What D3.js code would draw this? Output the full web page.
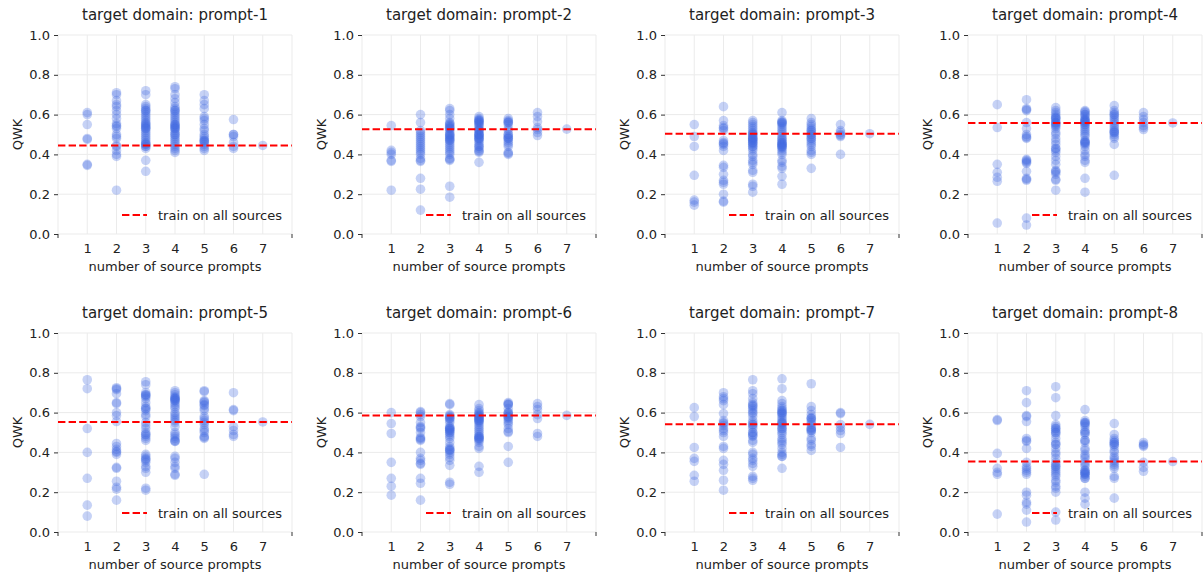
<!DOCTYPE html>
<html>
<head>
<meta charset="utf-8">
<script src="https://cdn.jsdelivr.net/npm/d3@7"></script>
<style>
  body { margin: 0; background: #fff; }
  svg text { font-family: "DejaVu Sans", sans-serif; fill: #222; }
</style>
</head>
<body>
<div id="chart"></div>
<script>
// QWK per number of source prompts (index 0 -> 1 source ... index 6 -> 7 sources)
const titles = ['prompt-1', 'prompt-2', 'prompt-3', 'prompt-4', 'prompt-5', 'prompt-6', 'prompt-7', 'prompt-8'];
const allSources = [0.445, 0.527, 0.504, 0.558, 0.553, 0.586, 0.541, 0.354];
const xTicks = [1, 2, 3, 4, 5, 6, 7];
const yTicks = [0, 0.2, 0.4, 0.6, 0.8, 1.0];

const prompt1 = [
  [0.61, 0.60, 0.55, 0.48, 0.475, 0.35, 0.345],
  [0.71, 0.70, 0.67, 0.65, 0.64, 0.62, 0.60, 0.58, 0.555, 0.545, 0.54, 0.53, 0.50, 0.49, 0.48, 0.445, 0.44, 0.42, 0.40, 0.39, 0.22],
  [0.72, 0.70, 0.65, 0.64, 0.63, 0.62, 0.62, 0.61, 0.60, 0.59, 0.58, 0.57, 0.56, 0.555, 0.55, 0.545, 0.54, 0.535, 0.53, 0.53, 0.52, 0.51, 0.50, 0.49, 0.48, 0.47, 0.46, 0.455, 0.45, 0.45, 0.44, 0.44, 0.43, 0.37, 0.315],
  [0.74, 0.73, 0.70, 0.68, 0.66, 0.64, 0.63, 0.62, 0.62, 0.61, 0.60, 0.59, 0.58, 0.57, 0.56, 0.55, 0.55, 0.545, 0.54, 0.535, 0.53, 0.53, 0.52, 0.51, 0.50, 0.50, 0.49, 0.48, 0.47, 0.46, 0.45, 0.44, 0.43, 0.42, 0.41],
  [0.70, 0.67, 0.65, 0.63, 0.59, 0.58, 0.57, 0.55, 0.53, 0.52, 0.50, 0.49, 0.48, 0.47, 0.47, 0.465, 0.46, 0.45, 0.44, 0.43, 0.42],
  [0.575, 0.50, 0.50, 0.49, 0.46, 0.44, 0.43],
  [0.445]
];
const prompt2 = [
  [0.545, 0.42, 0.41, 0.40, 0.37, 0.365, 0.22],
  [0.60, 0.56, 0.52, 0.51, 0.50, 0.49, 0.48, 0.47, 0.46, 0.45, 0.44, 0.43, 0.42, 0.41, 0.40, 0.38, 0.37, 0.365, 0.28, 0.225, 0.12],
  [0.63, 0.62, 0.60, 0.58, 0.56, 0.555, 0.55, 0.545, 0.54, 0.535, 0.53, 0.53, 0.52, 0.51, 0.50, 0.50, 0.495, 0.49, 0.485, 0.48, 0.475, 0.47, 0.47, 0.46, 0.45, 0.44, 0.43, 0.42, 0.41, 0.40, 0.38, 0.375, 0.37, 0.24, 0.185],
  [0.59, 0.58, 0.575, 0.57, 0.57, 0.565, 0.56, 0.56, 0.55, 0.55, 0.54, 0.53, 0.525, 0.52, 0.52, 0.51, 0.50, 0.50, 0.50, 0.495, 0.49, 0.485, 0.48, 0.48, 0.475, 0.47, 0.46, 0.45, 0.44, 0.44, 0.43, 0.42, 0.415, 0.41, 0.36],
  [0.58, 0.57, 0.565, 0.56, 0.56, 0.55, 0.53, 0.52, 0.50, 0.50, 0.49, 0.485, 0.48, 0.48, 0.47, 0.46, 0.45, 0.44, 0.41, 0.405, 0.40],
  [0.61, 0.59, 0.565, 0.535, 0.525, 0.51, 0.495],
  [0.527]
];
const prompt3 = [
  [0.55, 0.49, 0.44, 0.295, 0.17, 0.16, 0.145],
  [0.64, 0.57, 0.545, 0.535, 0.53, 0.52, 0.47, 0.46, 0.455, 0.45, 0.44, 0.42, 0.345, 0.335, 0.30, 0.27, 0.26, 0.25, 0.20, 0.165, 0.16],
  [0.57, 0.56, 0.55, 0.54, 0.53, 0.52, 0.51, 0.505, 0.50, 0.50, 0.49, 0.485, 0.48, 0.48, 0.475, 0.47, 0.47, 0.46, 0.46, 0.455, 0.45, 0.44, 0.44, 0.43, 0.42, 0.40, 0.39, 0.37, 0.36, 0.35, 0.32, 0.31, 0.25, 0.24, 0.21],
  [0.61, 0.57, 0.565, 0.56, 0.56, 0.555, 0.55, 0.54, 0.53, 0.52, 0.51, 0.50, 0.49, 0.48, 0.475, 0.47, 0.46, 0.46, 0.455, 0.45, 0.45, 0.445, 0.44, 0.44, 0.435, 0.43, 0.42, 0.41, 0.40, 0.37, 0.36, 0.34, 0.33, 0.29, 0.25],
  [0.58, 0.56, 0.55, 0.54, 0.53, 0.52, 0.52, 0.51, 0.50, 0.50, 0.49, 0.48, 0.48, 0.47, 0.46, 0.45, 0.44, 0.42, 0.41, 0.40, 0.33],
  [0.55, 0.52, 0.51, 0.50, 0.495, 0.49, 0.40],
  [0.504]
];
const prompt4 = [
  [0.65, 0.535, 0.35, 0.31, 0.285, 0.265, 0.055],
  [0.675, 0.63, 0.625, 0.62, 0.56, 0.53, 0.50, 0.49, 0.485, 0.48, 0.375, 0.37, 0.365, 0.36, 0.355, 0.315, 0.28, 0.275, 0.27, 0.08, 0.045],
  [0.635, 0.62, 0.61, 0.60, 0.59, 0.585, 0.58, 0.58, 0.57, 0.56, 0.56, 0.555, 0.55, 0.545, 0.54, 0.53, 0.51, 0.50, 0.48, 0.465, 0.45, 0.43, 0.43, 0.42, 0.41, 0.39, 0.37, 0.35, 0.32, 0.315, 0.31, 0.30, 0.275, 0.27, 0.22],
  [0.62, 0.615, 0.61, 0.60, 0.60, 0.59, 0.58, 0.575, 0.57, 0.57, 0.565, 0.56, 0.56, 0.55, 0.55, 0.54, 0.53, 0.52, 0.51, 0.50, 0.49, 0.47, 0.465, 0.46, 0.46, 0.455, 0.45, 0.44, 0.42, 0.40, 0.39, 0.37, 0.36, 0.28, 0.21],
  [0.645, 0.62, 0.61, 0.60, 0.60, 0.59, 0.58, 0.57, 0.56, 0.55, 0.54, 0.53, 0.52, 0.515, 0.51, 0.51, 0.50, 0.49, 0.48, 0.45, 0.295],
  [0.61, 0.59, 0.575, 0.56, 0.545, 0.535, 0.525],
  [0.558]
];
const prompt5 = [
  [0.765, 0.72, 0.52, 0.40, 0.27, 0.135, 0.08],
  [0.725, 0.72, 0.715, 0.695, 0.65, 0.645, 0.60, 0.585, 0.555, 0.445, 0.43, 0.415, 0.405, 0.40, 0.39, 0.325, 0.32, 0.255, 0.225, 0.215, 0.16],
  [0.755, 0.74, 0.70, 0.69, 0.69, 0.685, 0.68, 0.67, 0.65, 0.63, 0.62, 0.62, 0.61, 0.59, 0.58, 0.55, 0.535, 0.52, 0.50, 0.49, 0.49, 0.48, 0.47, 0.46, 0.39, 0.38, 0.37, 0.365, 0.36, 0.35, 0.33, 0.32, 0.30, 0.22, 0.21],
  [0.71, 0.70, 0.69, 0.68, 0.675, 0.67, 0.67, 0.665, 0.66, 0.66, 0.65, 0.64, 0.63, 0.62, 0.60, 0.59, 0.58, 0.57, 0.56, 0.55, 0.53, 0.50, 0.49, 0.48, 0.47, 0.46, 0.455, 0.455, 0.38, 0.37, 0.35, 0.33, 0.32, 0.29, 0.285],
  [0.71, 0.705, 0.66, 0.655, 0.65, 0.64, 0.635, 0.62, 0.61, 0.58, 0.57, 0.56, 0.55, 0.54, 0.52, 0.51, 0.50, 0.48, 0.475, 0.47, 0.29],
  [0.70, 0.615, 0.61, 0.53, 0.51, 0.49, 0.48],
  [0.553]
];
const prompt6 = [
  [0.60, 0.545, 0.495, 0.35, 0.27, 0.23, 0.185],
  [0.605, 0.60, 0.59, 0.58, 0.55, 0.53, 0.525, 0.52, 0.50, 0.475, 0.47, 0.465, 0.46, 0.40, 0.37, 0.36, 0.345, 0.34, 0.27, 0.245, 0.16],
  [0.645, 0.64, 0.59, 0.585, 0.58, 0.575, 0.57, 0.57, 0.56, 0.55, 0.53, 0.525, 0.52, 0.52, 0.515, 0.51, 0.51, 0.50, 0.50, 0.49, 0.48, 0.47, 0.45, 0.43, 0.42, 0.415, 0.41, 0.41, 0.40, 0.39, 0.375, 0.36, 0.335, 0.25, 0.24],
  [0.64, 0.62, 0.61, 0.60, 0.595, 0.59, 0.585, 0.58, 0.58, 0.575, 0.57, 0.57, 0.565, 0.56, 0.56, 0.555, 0.55, 0.54, 0.53, 0.52, 0.51, 0.50, 0.49, 0.48, 0.48, 0.475, 0.47, 0.47, 0.465, 0.46, 0.45, 0.43, 0.42, 0.33, 0.30],
  [0.65, 0.645, 0.64, 0.64, 0.62, 0.60, 0.60, 0.595, 0.59, 0.58, 0.58, 0.575, 0.57, 0.56, 0.55, 0.54, 0.52, 0.505, 0.50, 0.43, 0.35],
  [0.645, 0.63, 0.615, 0.59, 0.57, 0.495, 0.48],
  [0.586]
];
const prompt7 = [
  [0.625, 0.58, 0.425, 0.37, 0.355, 0.285, 0.255],
  [0.70, 0.68, 0.67, 0.66, 0.64, 0.595, 0.56, 0.55, 0.545, 0.535, 0.52, 0.51, 0.50, 0.48, 0.43, 0.42, 0.36, 0.34, 0.31, 0.26, 0.21],
  [0.765, 0.71, 0.695, 0.67, 0.65, 0.64, 0.635, 0.63, 0.62, 0.61, 0.60, 0.595, 0.58, 0.56, 0.55, 0.54, 0.54, 0.53, 0.52, 0.50, 0.50, 0.49, 0.485, 0.48, 0.46, 0.45, 0.40, 0.39, 0.37, 0.36, 0.345, 0.33, 0.28, 0.27, 0.26],
  [0.77, 0.72, 0.66, 0.645, 0.63, 0.62, 0.61, 0.61, 0.60, 0.60, 0.595, 0.59, 0.58, 0.57, 0.56, 0.55, 0.55, 0.545, 0.54, 0.53, 0.52, 0.52, 0.51, 0.50, 0.49, 0.47, 0.46, 0.45, 0.44, 0.42, 0.40, 0.39, 0.38, 0.38, 0.32],
  [0.745, 0.63, 0.61, 0.59, 0.575, 0.57, 0.57, 0.56, 0.55, 0.54, 0.525, 0.52, 0.515, 0.51, 0.51, 0.50, 0.47, 0.46, 0.44, 0.43, 0.41],
  [0.60, 0.595, 0.54, 0.525, 0.51, 0.495, 0.425],
  [0.541]
];
const prompt8 = [
  [0.565, 0.56, 0.395, 0.32, 0.30, 0.29, 0.09],
  [0.71, 0.65, 0.585, 0.58, 0.555, 0.47, 0.46, 0.455, 0.42, 0.35, 0.33, 0.32, 0.31, 0.30, 0.29, 0.20, 0.185, 0.15, 0.14, 0.11, 0.05],
  [0.73, 0.675, 0.585, 0.54, 0.53, 0.52, 0.52, 0.51, 0.50, 0.50, 0.49, 0.47, 0.45, 0.44, 0.44, 0.42, 0.40, 0.39, 0.37, 0.35, 0.34, 0.33, 0.33, 0.32, 0.31, 0.30, 0.29, 0.28, 0.26, 0.25, 0.23, 0.22, 0.20, 0.10, 0.06],
  [0.615, 0.56, 0.55, 0.55, 0.545, 0.54, 0.53, 0.51, 0.50, 0.50, 0.49, 0.46, 0.46, 0.45, 0.42, 0.41, 0.39, 0.38, 0.37, 0.35, 0.34, 0.33, 0.31, 0.31, 0.30, 0.30, 0.295, 0.29, 0.29, 0.28, 0.27, 0.27, 0.20, 0.17, 0.14],
  [0.545, 0.49, 0.47, 0.46, 0.45, 0.45, 0.44, 0.44, 0.43, 0.41, 0.40, 0.38, 0.37, 0.36, 0.35, 0.34, 0.33, 0.32, 0.28, 0.27, 0.17],
  [0.45, 0.44, 0.435, 0.43, 0.35, 0.325, 0.305],
  [0.354]
];
const panels = [prompt1, prompt2, prompt3, prompt4, prompt5, prompt6, prompt7, prompt8];

const W = 1203, H = 574;
const colLeft = [58, 362, 665, 968];
const rowTop = [35, 333];
const pw = 234, ph = 199;

const svg = d3.select('#chart').append('svg')
  .attr('width', W)
  .attr('height', H);

const x = d3.scaleLinear().domain([0, 8]).range([0, pw]);
const y = d3.scaleLinear().domain([0, 1]).range([ph, 0]);

panels.forEach((cols, i) => {
  const g = svg.append('g')
    .attr('transform', `translate(${colLeft[i % 4]},${rowTop[Math.floor(i / 4)]})`);

  // grid
  g.append('g').selectAll('line')
    .data(d3.range(0, 9))
    .join('line')
    .attr('x1', d => x(d)).attr('x2', d => x(d))
    .attr('y1', 0).attr('y2', ph)
    .attr('stroke', '#ebebeb').attr('stroke-width', 1);
  g.append('g').selectAll('line')
    .data(yTicks)
    .join('line')
    .attr('x1', 0).attr('x2', pw)
    .attr('y1', d => y(d)).attr('y2', d => y(d))
    .attr('stroke', '#ebebeb').attr('stroke-width', 1);

  // y axis
  const yAxis = g.append('g')
    .call(d3.axisLeft(y).tickValues(yTicks).tickFormat(d3.format('.1f')).tickSize(4).tickPadding(4));
  yAxis.select('.domain').remove();
  yAxis.selectAll('line').attr('stroke', '#333');
  yAxis.selectAll('text').style('font-size', '13px').style('font-family', 'DejaVu Sans');

  // x axis: labels 1..7, tick marks only at the ends
  const xAxis = g.append('g')
    .attr('transform', `translate(0,${ph})`)
    .call(d3.axisBottom(x).tickValues(xTicks).tickFormat(d3.format('d')).tickSize(0).tickPadding(10));
  xAxis.select('.domain').remove();
  xAxis.selectAll('text').style('font-size', '13px').style('font-family', 'DejaVu Sans');
  g.append('g').selectAll('line')
    .data([0, 8])
    .join('line')
    .attr('x1', d => x(d)).attr('x2', d => x(d))
    .attr('y1', ph).attr('y2', ph + 4)
    .attr('stroke', '#333');

  // points
  const pts = cols.flatMap((vals, k) => vals.map(v => ({ n: k + 1, v })));
  g.append('g').selectAll('circle')
    .data(pts)
    .join('circle')
    .attr('cx', d => x(d.n))
    .attr('cy', d => y(d.v))
    .attr('r', 4.8)
    .attr('fill', 'royalblue')
    .attr('fill-opacity', 0.3);

  // baseline
  g.append('line')
    .attr('x1', 0).attr('x2', pw)
    .attr('y1', y(allSources[i])).attr('y2', y(allSources[i]))
    .attr('stroke', 'red')
    .attr('stroke-width', 2)
    .attr('stroke-dasharray', '7.4,3.2');

  // legend
  const lg = g.append('g').attr('transform', `translate(64,${ph - 19})`);
  lg.append('line')
    .attr('x1', 0).attr('x2', 25)
    .attr('stroke', 'red').attr('stroke-width', 2)
    .attr('stroke-dasharray', '7.4,3.2');
  lg.append('text')
    .attr('x', 36).attr('y', 4.5)
    .style('font-size', '13px')
    .text('train on all sources');

  // titles and labels
  g.append('text')
    .attr('x', pw / 2).attr('y', -15)
    .attr('text-anchor', 'middle')
    .style('font-size', '15px')
    .text('target domain: ' + titles[i]);
  g.append('text')
    .attr('x', pw / 2).attr('y', ph + 37)
    .attr('text-anchor', 'middle')
    .style('font-size', '13px')
    .text('number of source prompts');
  g.append('text')
    .attr('transform', `translate(-36,${ph / 2}) rotate(-90)`)
    .attr('text-anchor', 'middle')
    .style('font-size', '13px')
    .text('QWK');
});
</script>
</body>
</html>
